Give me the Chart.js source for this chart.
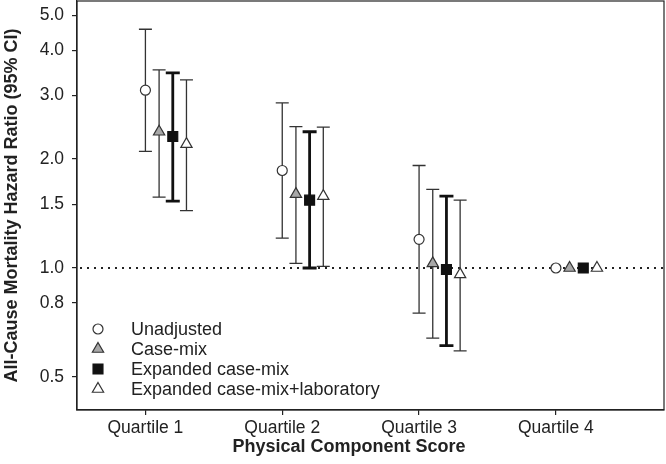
<!DOCTYPE html>
<html>
<head>
<meta charset="utf-8">
<script src="https://cdn.jsdelivr.net/npm/chart.js@4"></script>
<style>
  body { margin: 0; background: #fff; }
  canvas { display: block; }
</style>
</head>
<body>
<canvas id="hrChart" width="666" height="464"></canvas>
<script>
// categories and tick labels
const categories = ["Quartile 1", "Quartile 2", "Quartile 3", "Quartile 4"];
const yTicks = [0.5, 0.8, 1.0, 1.5, 2.0, 3.0, 4.0, 5.0];
const seriesNames = ["Unadjusted", "Case-mix", "Expanded case-mix", "Expanded case-mix+laboratory"];

// hazard ratios + 95% CI (Quartile 4 = reference, no CI)
const unadjHR = [3.10, 1.86, 1.20, 1.0];
const unadjLo = [2.10, 1.21, 0.75, null];
const unadjHi = [4.57, 2.86, 1.92, null];

const caseMixHR = [2.38, 1.60, 1.03, 1.0];
const caseMixLo = [1.57, 1.03, 0.64, null];
const caseMixHi = [3.53, 2.46, 1.65, null];

const expHR = [2.31, 1.54, 0.99, 1.0];
const expLo = [1.53, 1.00, 0.61, null];
const expHi = [3.46, 2.38, 1.58, null];

const expLabHR = [2.20, 1.58, 0.96, 1.0];
const expLabLo = [1.44, 1.01, 0.59, null];
const expLabHi = [3.31, 2.45, 1.54, null];

const refValue = 1.0;

var FONT = "'Liberation Sans', Arial, sans-serif";
var TEXT = "#222";
var offsets = [0, 0.1, 0.2, 0.3]; // dodge within each quartile

function pts(values, k) {
    return values.map((v, i) => ({ x: i + 1 + offsets[k], y: v }));
}

var styles = [
    { pointStyle: "circle", radius: 5, fill: "#fff", line: "#333", barWidth: 1.3, cap: 6.5 },
    { pointStyle: "triangle", radius: 6.5, fill: "#a8a8a8", line: "#333", barWidth: 1.3, cap: 6.5 },
    { pointStyle: "rect", radius: 7, fill: "#111", line: "#111", barWidth: 2.8, cap: 7 },
    { pointStyle: "triangle", radius: 6.5, fill: "#fff", line: "#333", barWidth: 1.3, cap: 6.5 },
];
var lows = [unadjLo, caseMixLo, expLo, expLabLo];
var highs = [unadjHi, caseMixHi, expHi, expLabHi];
var hrs = [unadjHR, caseMixHR, expHR, expLabHR];

// error bars + reference line, drawn under the markers
var errorBars = {
    id: "errorBars",
    beforeDatasetsDraw(chart) {
        var ctx = chart.ctx;
        var ys = chart.scales.y;
        var area = chart.chartArea;
        ctx.save();

        // dotted line at HR = 1
        var yRef = ys.getPixelForValue(refValue);
        ctx.strokeStyle = "#222";
        ctx.lineWidth = 2;
        ctx.setLineDash([2, 5]);
        ctx.beginPath();
        ctx.moveTo(area.left + 3, yRef);
        ctx.lineTo(area.right, yRef);
        ctx.stroke();
        ctx.setLineDash([]);

        chart.data.datasets.forEach((ds, k) => {
            var meta = chart.getDatasetMeta(k);
            var st = styles[k];
            ctx.strokeStyle = st.line;
            ctx.lineWidth = st.barWidth;
            meta.data.forEach((pt, i) => {
                if (lows[k][i] == null) return;
                var yLo = ys.getPixelForValue(lows[k][i]);
                var yHi = ys.getPixelForValue(highs[k][i]);
                ctx.beginPath();
                ctx.moveTo(pt.x, yLo);
                ctx.lineTo(pt.x, yHi);
                ctx.moveTo(pt.x - st.cap, yLo);
                ctx.lineTo(pt.x + st.cap, yLo);
                ctx.moveTo(pt.x - st.cap, yHi);
                ctx.lineTo(pt.x + st.cap, yHi);
                ctx.stroke();
            });
        });
        ctx.restore();
    },
};

function drawMarker(ctx, st, x, y) {
    ctx.fillStyle = st.fill;
    ctx.strokeStyle = st.line;
    ctx.lineWidth = 1.2;
    ctx.beginPath();
    if (st.pointStyle === "circle") {
        ctx.arc(x, y, st.radius, 0, Math.PI * 2);
    } else if (st.pointStyle === "rect") {
        var s = st.radius * Math.SQRT1_2;
        ctx.rect(x - s, y - s, 2 * s, 2 * s);
    } else {
        var r = st.radius;
        ctx.moveTo(x, y - r);
        ctx.lineTo(x + r * Math.sin(Math.PI * 2 / 3), y + r / 2);
        ctx.lineTo(x - r * Math.sin(Math.PI * 2 / 3), y + r / 2);
        ctx.closePath();
    }
    ctx.fill();
    ctx.stroke();
}

// frame, legend and axis titles
var decorations = {
    id: "decorations",
    afterDraw(chart) {
        var ctx = chart.ctx;
        var a = chart.chartArea;
        ctx.save();
        ctx.strokeStyle = "#222";
        ctx.lineWidth = 1.2;
        ctx.strokeRect(a.left, a.top, a.right - a.left, a.bottom - a.top);

        // legend
        ctx.font = "18px " + FONT;
        ctx.textBaseline = "middle";
        ctx.textAlign = "left";
        seriesNames.forEach((name, k) => {
            var y = 329 + k * 20;
            drawMarker(ctx, styles[k], 98, y);
            ctx.fillStyle = TEXT;
            ctx.fillText(name, 131, y + 1);
        });

        // axis titles
        ctx.fillStyle = TEXT;
        ctx.font = "bold 18px " + FONT;
        ctx.textAlign = "center";
        ctx.textBaseline = "alphabetic";
        ctx.fillText("Physical Component Score", 349, 452);
        ctx.translate(17, (a.top + a.bottom) / 2);
        ctx.rotate(-Math.PI / 2);
        ctx.fillText("All-Cause Mortality Hazard Ratio (95% CI)", 0, 0);
        ctx.restore();
    },
};

document.addEventListener("DOMContentLoaded", function () {
    var ctx = document.getElementById("hrChart").getContext("2d");

    var datasets = seriesNames.map((name, k) => ({
        label: name,
        data: pts(hrs[k], k),
        pointStyle: styles[k].pointStyle,
        pointRadius: styles[k].radius,
        pointHoverRadius: styles[k].radius,
        backgroundColor: styles[k].fill,
        borderColor: styles[k].line,
        borderWidth: 1.2,
        showLine: false,
    }));

    new Chart(ctx, {
        type: "scatter",
        data: { datasets: datasets },
        options: {
            responsive: false,
            animation: false,
            layout: { autoPadding: false, padding: { top: 1, right: 2, left: 0, bottom: 0 } },
            plugins: {
                legend: { display: false },
                tooltip: { enabled: false },
            },
            scales: {
                x: {
                    type: "linear",
                    min: 0.5,
                    max: 4.79,
                    afterBuildTicks: (s) => {
                        s.ticks = categories.map((c, i) => ({ value: i + 1 }));
                    },
                    afterFit: (s) => {
                        s.height = 54;
                        s.paddingLeft = 0;
                        s.paddingRight = 0;
                    },
                    ticks: {
                        callback: (v) => categories[v - 1],
                        font: { family: FONT, size: 17.5 },
                        color: TEXT,
                        padding: 3,
                        maxRotation: 0,
                    },
                    grid: { drawOnChartArea: false, tickLength: 5, color: "#222", lineWidth: 1.2 },
                    border: { color: "#222", width: 1.2 },
                },
                y: {
                    type: "logarithmic",
                    min: 0.405,
                    max: 5.47,
                    afterBuildTicks: (s) => {
                        s.ticks = yTicks.map((v) => ({ value: v }));
                    },
                    afterFit: (s) => {
                        s.width = 77;
                        s.paddingTop = 0;
                        s.paddingBottom = 0;
                    },
                    ticks: {
                        callback: (v) => Number(v).toFixed(1),
                        font: { family: FONT, size: 17.5 },
                        color: TEXT,
                        padding: 8,
                    },
                    grid: { drawOnChartArea: false, tickLength: 5, color: "#222", lineWidth: 1.2 },
                    border: { color: "#222", width: 1.2 },
                },
            },
        },
        plugins: [errorBars, decorations],
    });
});
</script>
</body>
</html>
